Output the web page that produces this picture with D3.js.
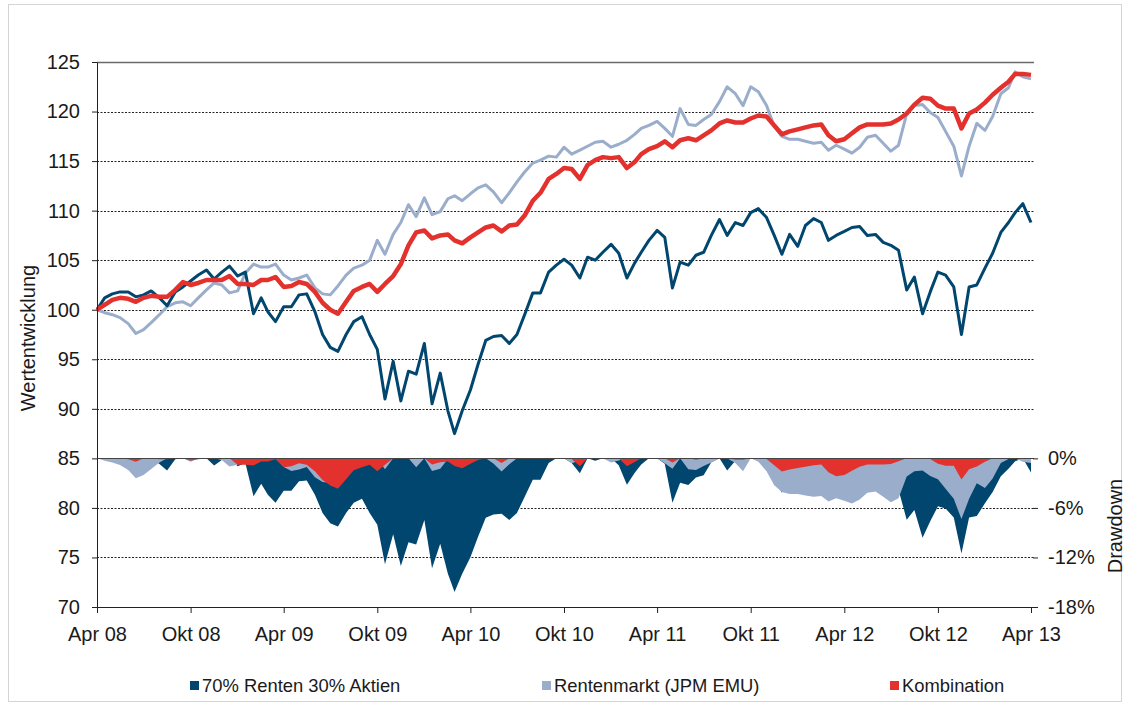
<!DOCTYPE html>
<html>
<head>
<meta charset="utf-8">
<script src="https://cdn.jsdelivr.net/npm/d3@7"></script>
<style>
  html, body { margin: 0; padding: 0; background: #fff; }
  svg { display: block; font-family: "Liberation Sans", Arial, sans-serif; }
</style>
</head>
<body>
<svg id="chart" width="1130" height="706"></svg>
<script>
// ---------------------------------------------
// data: half-month steps counted from Apr 2008
// ---------------------------------------------

var monthSteps = d3.range(0, 60.5, 0.5);

// 70% Renten 30% Aktien
var mixValues = [
  100, 101.2, 101.6, 101.8, 101.8, 101.3, 101.5, 101.9, 101.2, 100.4,
  101.8, 102.3, 102.9, 103.5, 104.0, 103.1, 103.8, 104.4, 103.4, 103.8,
  99.6, 101.2, 99.8, 98.8, 100.3, 100.3, 101.5, 101.6, 99.8, 97.5,
  96.2, 95.8, 97.5, 98.8, 99.3, 97.5, 96.0, 91.0, 94.8, 90.8,
  93.8, 93.5, 96.6, 90.5, 93.6, 89.8, 87.5, 89.8, 91.9, 94.5,
  96.9, 97.3, 97.4, 96.6, 97.5, 99.5, 101.7, 101.7, 103.8, 104.5,
  105.1, 104.5, 103.2, 105.3, 105.0, 105.8, 106.6, 105.7, 103.2, 104.7,
  105.8, 107.0, 108.0, 107.3, 102.2, 104.8, 104.5, 105.5, 105.8, 107.5,
  109.1, 107.5, 108.8, 108.5, 109.8, 110.2, 109.3, 107.5, 105.6, 107.6,
  106.4, 108.5, 109.2, 108.8, 107.0, 107.5, 107.9, 108.3, 108.4, 107.5,
  107.6, 106.8, 106.5, 106.0, 102.0, 103.3, 99.6, 101.8, 103.8, 103.5,
  102.3, 97.5, 102.3, 102.5, 104.2, 105.7, 107.8, 108.8, 109.8, 110.7,
  108.8
];

// Rentenmarkt (JPM EMU)
var bondValues = [
  100, 99.7, 99.5, 99.2, 98.6, 97.6, 98.0, 98.7, 99.5, 100.3,
  100.7, 100.8, 100.4, 101.2, 102.0, 102.7, 102.5, 101.7, 101.9, 103.7,
  104.6, 104.3, 104.3, 104.6, 103.5, 103.0, 103.2, 103.5, 102.2, 101.6,
  101.5, 102.4, 103.5, 104.2, 104.5, 105.0, 107.0, 105.6, 107.6, 108.8,
  110.6, 109.4, 111.3, 109.6, 109.9, 111.2, 111.5, 111.0, 111.7, 112.3,
  112.6, 111.9, 110.8, 111.8, 112.9, 113.9, 114.8, 115.1, 115.5, 115.4,
  116.4, 115.7, 116.1, 116.5, 116.9, 117.0, 116.4, 116.7, 117.1, 117.7,
  118.3, 118.6, 119.0, 118.3, 117.5, 120.3, 118.7, 118.6, 119.2, 119.7,
  121.0, 122.5, 121.8, 120.6, 122.5, 122.0, 120.6, 118.5, 117.5, 117.2,
  117.2, 117.0, 116.8, 116.9, 116.1, 116.6, 116.2, 115.8, 116.4, 117.4,
  117.6, 116.8, 116.0, 116.6, 119.8, 120.6, 120.7, 119.9, 119.4, 118.0,
  116.5, 113.5, 116.5, 118.8, 118.1, 119.5, 121.8, 122.4, 124.0, 123.5,
  123.3
];

// Kombination
var comboValues = [
  100, 100.5, 101.0, 101.2, 101.1, 100.8, 101.2, 101.4, 101.3, 101.3,
  102.0, 102.8, 102.5, 102.7, 103.0, 103.0, 103.0, 103.4, 102.6, 102.6,
  102.5, 103.0, 103.0, 103.3, 102.3, 102.4, 102.8, 102.6, 101.8, 100.7,
  100.0, 99.6, 100.8, 101.9, 102.3, 102.6, 101.8, 102.6, 103.4, 104.6,
  106.5, 107.8, 108.0, 107.2, 107.5, 107.6, 107.0, 106.7, 107.3, 107.8,
  108.3, 108.5, 107.9, 108.5, 108.6, 109.5, 111.0, 111.8, 113.2, 113.7,
  114.3, 114.2, 113.2, 114.6, 115.1, 115.4, 115.3, 115.4, 114.3, 114.9,
  115.7, 116.2, 116.5, 117.0, 116.4, 117.1, 117.3, 117.1, 117.6, 118.1,
  118.8, 119.1, 118.9, 118.9, 119.3, 119.6, 119.5, 118.6, 117.7, 118.0,
  118.2, 118.4, 118.6, 118.7, 117.6, 117.0, 117.2, 117.8, 118.4, 118.7,
  118.7, 118.7, 118.8, 119.2, 119.8, 120.7, 121.4, 121.3, 120.6, 120.3,
  120.3, 118.3, 119.8, 120.2, 120.9, 121.7, 122.4, 123.0, 123.8, 123.8,
  123.7
];

var seriesNames = ['70% Renten 30% Aktien', 'Rentenmarkt (JPM EMU)', 'Kombination'];
var seriesColors = ['#00466e', '#9aadcb', '#e3312d'];

var xTickLabels = ['Apr 08', 'Okt 08', 'Apr 09', 'Okt 09', 'Apr 10', 'Okt 10',
  'Apr 11', 'Okt 11', 'Apr 12', 'Okt 12', 'Apr 13'];
var yTicks = [70, 75, 80, 85, 90, 95, 100, 105, 110, 115, 120, 125];
var ddTicks = [0, -6, -12, -18];

// ------
// layout
// ------

var plot = { left: 97, right: 1033, top: 62, bottom: 607 };
var svg = d3.select('#chart');

var toDate = function (m) {
  return new Date(2008, 3 + Math.floor(m), m % 1 ? 16 : 1);
};

var x = d3.scaleTime()
  .domain([new Date(2008, 3, 1), new Date(2013, 3, 1)])
  .range([plot.left, 1031]);

var y = d3.scaleLinear().domain([70, 125]).range([plot.bottom, plot.top]);

// drawdown sits in the lower part, 0% = 85 on the left scale
var yDD = d3.scaleLinear().domain([-18, 0]).range([plot.bottom, y(85)]);

// frame around the picture
svg.append('rect')
  .attr('x', 8.5).attr('y', 4.5)
  .attr('width', 1113).attr('height', 697)
  .attr('fill', 'none')
  .attr('stroke', '#d4d4d4');

// -----
// grid
// -----

svg.append('g').selectAll('line')
  .data(yTicks.filter(function (d) { return d !== 70; }))
  .enter().append('line')
  .attr('x1', plot.left).attr('x2', 1034)
  .attr('y1', function (d) { return Math.round(y(d)) + 0.5; })
  .attr('y2', function (d) { return Math.round(y(d)) + 0.5; })
  .attr('stroke', function (d) { return d === 125 ? '#6a6a6a' : '#222'; })
  .attr('stroke-width', function (d) { return d === 125 ? 1.6 : 1; })
  .attr('stroke-dasharray', function (d) { return (d === 125 || d === 85) ? null : '2,1.5'; });

// -------------
// series data
// -------------

var series = [mixValues, bondValues, comboValues].map(function (vals, i) {
  var peak = -Infinity;
  return {
    name: seriesNames[i],
    color: seriesColors[i],
    points: vals.map(function (v, j) {
      peak = Math.max(peak, v);
      return { date: toDate(monthSteps[j]), value: v, dd: (v / peak - 1) * 100 };
    })
  };
});

// drawdown areas: dark blue at the back, red in front
var area = d3.area()
  .x(function (d) { return x(d.date); })
  .y0(yDD(0))
  .y1(function (d) { return yDD(d.dd); });

svg.append('g').attr('class', 'drawdowns')
  .selectAll('path')
  .data(series)
  .enter().append('path')
  .attr('d', function (d) { return area(d.points); })
  .attr('fill', function (d) { return d.color; });

// redraw the 0% line on top of the areas
svg.append('line')
  .attr('x1', plot.left).attr('x2', 1034)
  .attr('y1', Math.round(y(85)) + 0.5).attr('y2', Math.round(y(85)) + 0.5)
  .attr('stroke', '#444').attr('stroke-width', 1);

// value lines: light blue at the back, red in front
var line = d3.line()
  .x(function (d) { return x(d.date); })
  .y(function (d) { return y(d.value); });

var lineOrder = [series[1], series[0], series[2]];
var lineWidths = [3, 3, 4.5];

svg.append('g').attr('class', 'lines')
  .selectAll('path')
  .data(lineOrder)
  .enter().append('path')
  .attr('d', function (d) { return line(d.points); })
  .attr('fill', 'none')
  .attr('stroke', function (d) { return d.color; })
  .attr('stroke-width', function (d, i) { return lineWidths[i]; })
  .attr('stroke-linejoin', 'round');

// ----
// axes
// ----

var styleAxis = function (g) {
  g.selectAll('text').attr('font-size', '20px').attr('fill', '#1a1a1a')
    .attr('font-family', '"Liberation Sans", Arial, sans-serif');
  g.selectAll('line').attr('stroke', '#222');
  g.select('.domain').attr('stroke', '#222');
};

svg.append('g')
  .attr('transform', 'translate(' + plot.left + ',0)')
  .call(d3.axisLeft(y).tickValues(yTicks).tickSize(5).tickPadding(12).tickSizeOuter(0))
  .call(styleAxis);

var tickDates = d3.range(0, 61, 6).map(toDate);

svg.append('g')
  .attr('transform', 'translate(0,' + plot.bottom + ')')
  .call(d3.axisBottom(x).tickValues(tickDates).tickSize(6).tickPadding(14).tickSizeOuter(0)
    .tickFormat(function (d, i) { return xTickLabels[i]; }))
  .call(styleAxis)
  .call(function (g) {
    g.select('.domain').attr('d', 'M' + plot.left + ',0.5H1034');
  });

svg.append('g')
  .attr('transform', 'translate(1033,0)')
  .call(d3.axisRight(yDD).tickValues(ddTicks).tickSize(5).tickPadding(10)
    .tickFormat(function (d) { return d + '%'; }))
  .call(styleAxis)
  .call(function (g) { g.select('.domain').remove(); });

// axis titles
svg.append('text')
  .attr('transform', 'translate(35,338) rotate(-90)')
  .attr('text-anchor', 'middle')
  .attr('font-size', '20px')
  .attr('fill', '#1a1a1a')
  .text('Wertentwicklung');

svg.append('text')
  .attr('transform', 'translate(1122,526) rotate(-90)')
  .attr('text-anchor', 'middle')
  .attr('font-size', '20px')
  .attr('fill', '#1a1a1a')
  .text('Drawdown');

// ------
// legend
// ------

var legendX = [190, 542, 890];

var legend = svg.append('g').selectAll('g')
  .data(series)
  .enter().append('g')
  .attr('transform', function (d, i) { return 'translate(' + legendX[i] + ',686)'; });

legend.append('rect')
  .attr('x', 0).attr('y', -5)
  .attr('width', 9).attr('height', 9)
  .attr('fill', function (d) { return d.color; });

legend.append('text')
  .attr('x', 12).attr('y', 0)
  .attr('dy', '0.35em')
  .attr('font-size', '18.4px')
  .attr('fill', '#1a1a1a')
  .text(function (d) { return d.name; });
</script>
</body>
</html>
